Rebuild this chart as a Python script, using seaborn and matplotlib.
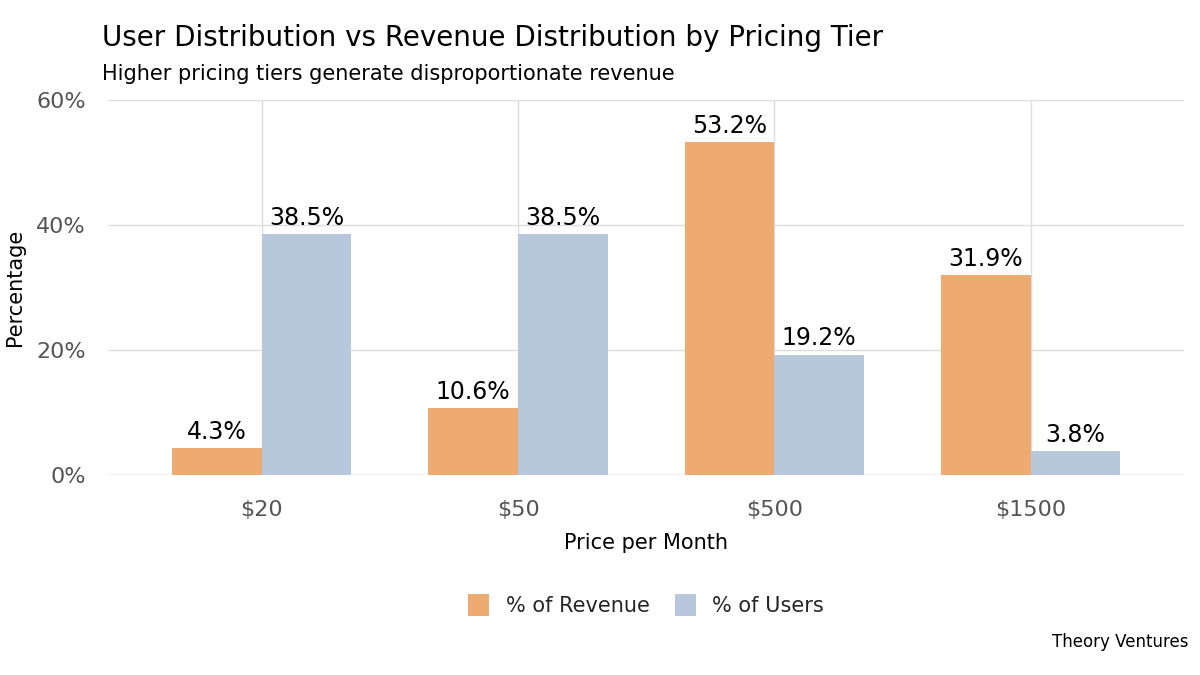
import matplotlib
matplotlib.use("Agg")
import matplotlib.pyplot as plt
import seaborn as sns
import pandas as pd

tiers = ["$20", "$50", "$500", "$1500"]
revenue = [4.3, 10.6, 53.2, 31.9]
users = [38.5, 38.5, 19.2, 3.8]
series = ["% of Revenue", "% of Users"]
colors = ["#EEAB71", "#B8C8DC"]

df = pd.DataFrame({
    "tier": tiers * 2,
    "value": revenue + users,
    "series": [series[0]] * 4 + [series[1]] * 4,
})

sns.set_theme(style="whitegrid")
plt.rcParams['font.family'] = ['DejaVu Sans']
fig = plt.figure(figsize=(12, 6.75), dpi=100)
ax = fig.add_axes([0.09, 0.297, 0.897, 0.555])
sns.barplot(data=df, x="tier", y="value", hue="series", palette=colors,
            width=0.7, ax=ax, saturation=1, legend=True, linewidth=0)
for c in ax.containers:
    ax.bar_label(c, labels=[f"{v:.1f}%" for v in c.datavalues], fontsize=17,
                 padding=3, color="black")
ax.set_ylim(0, 60)
ax.set_xlim(-0.6, 3.6)
ax.set_yticks([0, 20, 40, 60])
ax.set_yticklabels(["0%", "20%", "40%", "60%"], fontsize=16, color="#555555")
ax.tick_params(axis="x", labelsize=16, labelcolor="#555555", pad=12)
ax.tick_params(axis="y", pad=10)
for s in ax.spines.values():
    s.set_visible(False)
ax.grid(True, color="#DDDDDD", linewidth=1)
ax.set_axisbelow(True)
ax.axhline(0, color="#DDDDDD", linewidth=1, zorder=0.5)
ax.set_xlabel("Price per Month", fontsize=15, labelpad=10, color="black")
ax.set_ylabel("Percentage", fontsize=15, labelpad=8, color="black")
ax.legend(loc="upper center", bbox_to_anchor=(0.5, -0.27), ncol=2, frameon=False,
          fontsize=15, handlelength=1, handleheight=1.2, columnspacing=1.2, title=None)
fig.text(0.085, 0.965, "User Distribution vs Revenue Distribution by Pricing Tier",
         fontsize=20, va="top", color="black")
fig.text(0.085, 0.905, "Higher pricing tiers generate disproportionate revenue",
         fontsize=15, va="top", color="black")
fig.text(0.99, 0.035, "Theory Ventures", fontsize=12, ha="right", va="bottom", color="black")
fig.savefig("out.png", dpi=100, facecolor="white")
